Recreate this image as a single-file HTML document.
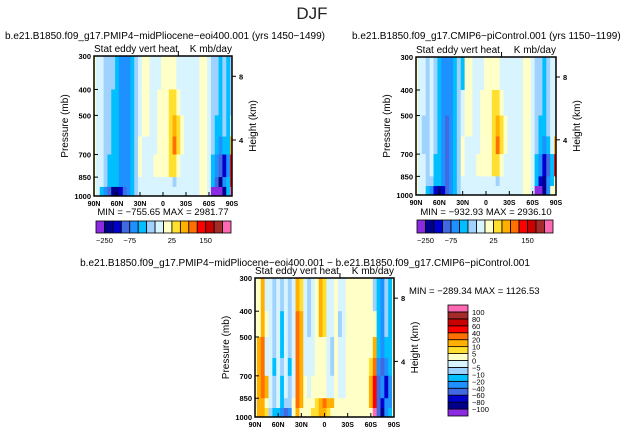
<!DOCTYPE html>
<html><head><meta charset="utf-8"><style>
body{margin:0;background:#fff;}
svg{display:block;font-family:"Liberation Sans",sans-serif;}
</style></head><body>
<svg id="fig" width="624" height="435" viewBox="0 0 624 435" xmlns="http://www.w3.org/2000/svg">
<text x="312" y="19" font-size="17" text-anchor="middle" fill="#222" font-weight="300">DJF</text>
</svg>
<script>
const lats=[90,85,80,75,70,65,60,55,50,45,40,35,30,25,20,15,10,5,0,-5,-10,-15,-20,-25,-30,-35,-40,-45,-50,-55,-60,-65,-70,-75,-80,-85,-90];
const plevs=[300,400,500,600,700,850,925,1000];
const topLevels=[-250,-150,-100,-75,-50,-25,-10,0,25,50,75,100,150,200,250];
const diffLevels=[-100,-80,-60,-40,-20,-10,-5,0,5,10,20,40,60,80,100];
const palette=["#8a2be2","#00008b","#0000cd","#4169e1","#1e90ff","#00bfff","#a0d2ff","#d8f4ff","#ffffc8","#ffe030","#ffb000","#ff7000","#ff0000","#c80000","#a52a2a","#ff69b4"];
const topLabels=[[0,"-250"],[3,"-75"],[8,"25"],[12,"150"]];
const diffLabels=["-100","-80","-60","-40","-20","-10","-5","0","5","10","20","40","60","80","100"];
const pmip=[
[10,-5,-5,-15,-15,-15,-30,-60,-60,-60,-30,-15,-5,10,10,-5,-5,-5,10,10,10,10,-5,-5,-5,-5,-5,-5,10,10,-5,-15,-15,-30,-15,-30,-15],
[10,-5,-5,-15,-15,-30,-30,-60,-60,-60,-30,-15,-5,10,10,-5,-5,10,10,10,30,30,10,-5,-5,-5,-5,-5,10,10,-5,-15,-15,-30,-15,-30,-15],
[10,-5,-5,-15,-15,-30,-30,-60,-60,-60,-30,-15,-5,10,10,-5,-5,10,10,10,30,60,30,10,-5,-5,-5,-5,10,10,-5,-15,-30,-30,-15,-30,-5],
[10,-5,-5,-15,-15,-30,-30,-60,-60,-60,-30,-15,10,-5,-5,-5,-5,10,10,10,30,80,30,10,-5,-5,-5,-5,10,10,-5,-15,-30,-60,-30,-30,60],
[10,-5,-5,-15,-30,-30,-30,-60,-60,-60,-30,-15,10,-5,-5,-5,10,10,10,10,30,30,10,-5,-5,-5,-5,-5,10,10,-5,-30,-60,-90,-120,-60,120],
[10,-5,-5,-15,-30,-30,-30,-60,-60,-60,-30,-15,-5,-5,-5,-5,-5,-5,-5,-5,-5,-15,-5,-5,-5,-5,-5,-5,10,10,-5,-30,-90,-200,-60,-30,120],
[10,-5,-30,-60,-90,-200,-200,-120,-90,-60,-30,-15,-5,-5,-5,-5,-5,-5,-5,-5,-5,-5,-5,-5,-5,-5,-5,-5,10,10,-5,-300,-300,-300,-200,-30,300]];
const ctrl=[
[10,-5,-5,-15,-5,-15,-30,-60,-60,-60,-30,-15,-30,10,10,-5,-5,-5,10,10,10,10,-5,-5,-5,-5,-5,-5,10,10,-5,-15,-15,-30,-15,-5,-5],
[10,-5,-5,-15,-5,-15,-30,-60,-60,-60,-30,-15,-5,10,10,-5,-5,10,10,10,30,30,10,-5,-5,-5,-5,-5,10,10,-5,-15,-15,-30,-15,-5,-5],
[10,-5,-15,-15,-5,-15,-30,-60,-90,-60,-30,-15,-5,10,10,-5,-5,10,10,10,30,60,30,10,-5,-5,-5,-5,10,10,-5,-15,-30,-30,-15,-5,-5],
[10,-5,-15,-15,-5,-15,-30,-60,-90,-60,-30,-15,10,-5,-5,-5,-5,10,10,10,30,80,30,10,-5,-5,-5,-5,10,10,-5,-15,-30,-60,-30,-5,60],
[10,-5,-5,-15,-5,-30,-30,-60,-90,-60,-30,-15,10,-5,-5,-5,10,10,10,10,30,30,10,-5,-5,-5,-5,-5,10,10,-5,-30,-60,-120,-90,-30,120],
[10,-5,-5,-15,-15,-30,-30,-60,-90,-60,-30,-15,-5,-5,-5,-5,-5,-5,-5,-5,-5,-15,-5,-5,-5,-5,-5,-5,10,10,-5,-30,-120,-200,-60,-30,10],
[10,-5,-5,-30,-60,-120,-200,-120,-90,-60,-30,-15,-5,-5,-5,-5,-5,-5,-5,-5,-5,-5,-5,-5,-5,-5,-5,-5,10,10,-5,-300,-300,-200,-60,10,10]];
const diff=[
[2,2,15,-2,-2,-7,-2,-7,-2,-7,-2,15,7,-2,-7,-2,2,15,7,-2,-2,2,-2,-2,2,2,2,2,2,2,2,-7,-15,-30,-7,-15,2],
[2,2,15,2,-2,-7,-2,-15,-2,-7,-2,30,15,-2,-7,-2,2,15,7,-2,-2,2,-7,-2,2,2,2,2,2,2,2,2,-15,-30,-7,-15,2],
[2,15,30,-2,-2,-7,-2,-15,-2,-7,-2,30,15,-2,-2,-2,2,2,2,-2,-7,2,-2,-2,2,2,2,2,2,2,2,15,-15,-40,-15,-15,2],
[2,15,30,-2,-2,-15,-2,-7,-2,-15,-2,30,15,-2,-2,-2,2,2,2,-2,-7,2,-2,-2,2,2,2,2,2,2,7,30,-40,-60,-30,-15,2],
[2,15,30,15,-2,-7,-2,-15,-2,-7,-2,30,15,2,-2,2,2,2,2,-2,-2,2,-2,-2,2,2,2,2,2,2,15,50,-60,-40,-80,-30,2],
[-2,15,15,2,-2,-7,-2,-15,-7,-7,2,30,15,2,2,2,7,15,30,15,15,2,2,2,2,2,2,2,2,2,15,50,-60,-80,-40,-30,2],
[2,15,10,7,-7,-15,-15,-40,-60,-40,2,15,2,2,2,7,7,15,15,7,2,2,2,2,2,2,2,2,2,2,2,120,-60,-100,-40,-15,2]];

const NS="http://www.w3.org/2000/svg";
const svg=document.getElementById('fig');
function mk(tag,attrs,parent,txt){const e=document.createElementNS(NS,tag);for(const k in attrs)e.setAttribute(k,attrs[k]);if(txt!==undefined)e.textContent=txt;(parent||svg).appendChild(e);return e;}
function colorFor(v,levels){let i=0;while(i<levels.length&&v>=levels[i])i++;return palette[i];}

function panel(cfg){
  const g=mk('g',{});
  
  
  const x0=cfg.x,y0=cfg.y,w=cfg.w,h=cfg.h;
  const xS=lat=>x0+(90-lat)/180*w;
  const yS=p=>y0+Math.log(p/300)/Math.log(1000/300)*h;
  for(let r=0;r<cfg.data.length;r++){
    for(let c=0;c<lats.length;c++){
      const la=Math.min(90,lats[c]+2.5),lb=Math.max(-90,lats[c]-2.5);
      const rc=mk('rect',{x:xS(la),y:yS(plevs[r]),width:xS(lb)-xS(la)+0.4,height:yS(plevs[r+1])-yS(plevs[r])+0.4,fill:colorFor(cfg.data[r][c],cfg.levels)},g);
      
      
    }
  }
  const fr=mk('rect',{x:x0,y:y0,width:w,height:h,fill:'none',stroke:'#000','stroke-width':1.5},g);
  
  
  [300,400,500,700,850,1000].forEach(p=>{
    mk('line',{x1:x0,x2:x0+4,y1:yS(p),y2:yS(p),stroke:'#000'},g);
    const t=mk('text',{x:x0-3,y:yS(p)+3,'font-size':7.5,'text-anchor':'end','font-weight':'bold'},g,String(p));
    
    
  });
  const yt=mk('text',{x:x0-26,y:y0+h/2,'font-size':10,'text-anchor':'middle',transform:`rotate(-90 ${x0-26} ${y0+h/2})`},g,'Pressure (mb)');
  
  
  [[8,0.145],[4,0.6]].forEach(([k,f])=>{
    const yy=y0+f*h;
    mk('line',{x1:x0+w,x2:x0+w+4,y1:yy,y2:yy,stroke:'#000'},g);
    const t=mk('text',{x:x0+w+7,y:yy+3,'font-size':7.5,'font-weight':'bold'},g,String(k));
    
    
  });
  const rt=mk('text',{x:x0+w+24,y:y0+h/2,'font-size':10,'text-anchor':'middle',transform:`rotate(-90 ${x0+w+24} ${y0+h/2})`},g,'Height (km)');
  
  
  [[90,'90N'],[60,'60N'],[30,'30N'],[0,'0'],[-30,'30S'],[-60,'60S'],[-90,'90S']].forEach(([la,l])=>{
    mk('line',{x1:xS(la),x2:xS(la),y1:y0+h,y2:y0+h-4,stroke:'#000'},g);
    const t=mk('text',{x:xS(la),y:y0+h+10,'font-size':7,'text-anchor':'middle','font-weight':'bold'},g,l);
    
    
  });
  mk('line',{x1:xS(-20),x2:xS(-20),y1:y0,y2:y0-5,stroke:'#000'},g);
  const l1=mk('text',{x:x0,y:y0-4,'font-size':10},g,'Stat eddy vert heat');
  
  
  const l2=mk('text',{x:x0+w,y:y0-4,'font-size':10,'text-anchor':'end'},g,'K mb/day');
  
  
  const tt=mk('text',{x:cfg.tx,y:cfg.ty,'font-size':10,'text-anchor':cfg.ta||'start'},g,cfg.title);
  
  
  const mm=mk('text',{x:cfg.mx,y:cfg.my,'font-size':9.5,'text-anchor':cfg.ma||'middle'},g,cfg.minmax);
  
  
}
function hbar(x0,y0,w,h){
  const g=mk('g',{});
  
  
  const bw=w/16;
  palette.forEach((c,i)=>{
    const r=mk('rect',{x:x0+i*bw,y:y0,width:bw,height:h,fill:c,stroke:'#000','stroke-width':0.8},g);
    
    
  });
  topLabels.forEach(([i,l])=>{
    const t=mk('text',{x:x0+(i+1)*bw,y:y0+h+10,'font-size':7.5,'text-anchor':'middle'},g,l.replace('-','\u2212'));
    
    
  });
}
function vbar(x0,y0,w,h){
  const g=mk('g',{});
  
  
  const bh=h/16;
  palette.forEach((c,i)=>{
    const r=mk('rect',{x:x0,y:y0+(15-i)*bh,width:w,height:bh,fill:c,stroke:'#000','stroke-width':0.8},g);
    
    
  });
  diffLabels.forEach((l,i)=>{
    const t=mk('text',{x:x0+w+4,y:y0+(15-i)*bh+3,'font-size':7.5},g,l.replace('-','\u2212'));
    
    
  });
}
panel({name:'pmip-panel',x:94,y:56,w:138,h:140,data:pmip,levels:topLevels,
  title:'b.e21.B1850.f09_g17.PMIP4\u2212midPliocene\u2212eoi400.001 (yrs 1450\u22121499)',tx:5,ty:39,
  minmax:'MIN = \u2212755.65   MAX = 2981.77',mx:163,my:215});
hbar(96,221,135,12);
panel({name:'control-panel',x:416,y:57,w:140,h:138,data:ctrl,levels:topLevels,
  title:'b.e21.B1850.f09_g17.CMIP6\u2212piControl.001 (yrs 1150\u22121199)',tx:352,ty:39,
  minmax:'MIN = \u2212932.93   MAX = 2936.10',mx:486,my:215});
hbar(417,220,136,13);
panel({name:'difference-panel',x:255,y:278,w:139,h:139,data:diff,levels:diffLevels,
  title:'b.e21.B1850.f09_g17.PMIP4\u2212midPliocene\u2212eoi400.001 \u2212 b.e21.B1850.f09_g17.CMIP6\u2212piControl.001',tx:305,ty:266,ta:'middle',
  minmax:'MIN = \u2212289.34   MAX = 1126.53',mx:409,my:294,ma:'start'});
vbar(448,305,20,111);
</script>
</body></html>
